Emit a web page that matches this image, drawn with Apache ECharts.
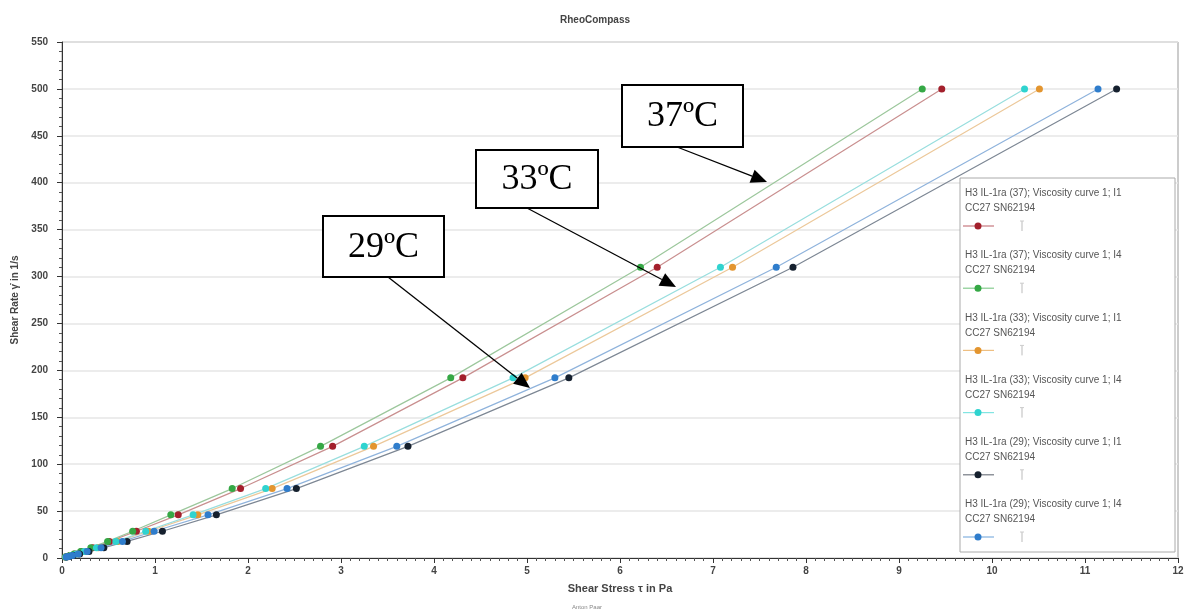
<!DOCTYPE html>
<html>
<head>
<meta charset="utf-8">
<script src="https://cdn.jsdelivr.net/npm/echarts@6/dist/echarts.min.js"></script>
<style>
html,body{margin:0;padding:0;background:#fff;}
#c{width:1187px;height:612px;}
</style>
</head>
<body>
<div id="c"></div>
<script>
// Shear rates (1/s) of the log ramp, ascending
const shearRate = [1.0, 1.6, 2.6, 4.2, 6.8, 11, 17.7, 28.5, 46, 74, 119, 192, 310, 500];

// Shear stress (Pa) for each curve, same order as shearRate
const stress37_I1 = [0.036, 0.056, 0.087, 0.135, 0.21, 0.33, 0.51, 0.80, 1.25, 1.92, 2.91, 4.31, 6.40, 9.46];
const stress37_I4 = [0.035, 0.053, 0.083, 0.13, 0.20, 0.31, 0.49, 0.76, 1.17, 1.83, 2.78, 4.18, 6.22, 9.25];
const stress33_I1 = [0.042, 0.065, 0.10, 0.16, 0.25, 0.39, 0.60, 0.93, 1.46, 2.26, 3.35, 4.98, 7.21, 10.51];
const stress33_I4 = [0.041, 0.063, 0.10, 0.155, 0.24, 0.37, 0.58, 0.90, 1.41, 2.19, 3.25, 4.85, 7.08, 10.35];
const stress29_I1 = [0.05, 0.078, 0.12, 0.19, 0.29, 0.45, 0.70, 1.08, 1.66, 2.52, 3.72, 5.45, 7.86, 11.34];
const stress29_I4 = [0.047, 0.072, 0.113, 0.175, 0.27, 0.42, 0.65, 0.99, 1.57, 2.42, 3.60, 5.30, 7.68, 11.14];

const seriesNames = [
  "H3 IL-1ra (37); Viscosity curve 1; I1",
  "H3 IL-1ra (37); Viscosity curve 1; I4",
  "H3 IL-1ra (33); Viscosity curve 1; I1",
  "H3 IL-1ra (33); Viscosity curve 1; I4",
  "H3 IL-1ra (29); Viscosity curve 1; I1",
  "H3 IL-1ra (29); Viscosity curve 1; I4"
];
const seriesSub = "CC27 SN62194";
const seriesStress = [stress37_I1, stress37_I4, stress33_I1, stress33_I4, stress29_I1, stress29_I4];
const seriesColors = ["#a3202c", "#35a845", "#e3952f", "#2fd3cf", "#15202e", "#2f7dcc"];
const lineColors = ["#c98f8f", "#9cc79c", "#ecc89a", "#98dede", "#7d8794", "#8fb3dc"];

const annotations = [
  {text: "37ºC", box: [622, 85, 121, 62], from: [677, 147], to: [767, 182]},
  {text: "33ºC", box: [476, 150, 122, 58], from: [527, 208], to: [676, 287]},
  {text: "29ºC", box: [323, 216, 121, 61], from: [388, 277], to: [530, 388]}
];

const chart = echarts.init(document.getElementById('c'), null, {renderer: 'canvas'});

const series = seriesNames.map((n, i) => ({
  name: n + "\n" + seriesSub,
  type: 'line',
  data: shearRate.map((r, k) => [seriesStress[i][k], r]),
  symbol: 'circle',
  symbolSize: 7,
  itemStyle: {color: seriesColors[i]},
  lineStyle: {color: lineColors[i], width: 1.2},
  z: 3
}));

// graphic elements: legend + annotations
const graphics = [];
const lgX = 960, lgY = 178, lgStep = 62.2;
graphics.push({type: 'rect', shape: {x: lgX, y: lgY, width: 215, height: 374},
  style: {fill: '#fff', stroke: '#aaa', lineWidth: 1}, z: 10});
seriesNames.forEach((n, i) => {
  const my = 226 + lgStep * i;
  graphics.push({type: 'text', x: lgX + 5, y: my - 40, z: 11,
    style: {text: n + "\n" + seriesSub, fill: '#555', font: '10px "Liberation Sans", Arial, sans-serif', lineHeight: 15}});
  graphics.push({type: 'line', z: 11, shape: {x1: lgX + 3, y1: my, x2: lgX + 34, y2: my},
    style: {stroke: seriesColors[i], lineWidth: 1.2, opacity: 0.6}});
  graphics.push({type: 'circle', z: 12, shape: {cx: lgX + 18, cy: my, r: 3.5},
    style: {fill: seriesColors[i]}});
  graphics.push({type: 'line', z: 11, shape: {x1: lgX + 62, y1: my - 5, x2: lgX + 62, y2: my + 5},
    style: {stroke: '#bbb', lineWidth: 1}});
  graphics.push({type: 'line', z: 11, shape: {x1: lgX + 60, y1: my - 5, x2: lgX + 64, y2: my - 5},
    style: {stroke: '#ccc', lineWidth: 1}});
});

annotations.forEach(a => {
  const [bx, by, bw, bh] = a.box;
  graphics.push({type: 'rect', z: 20, shape: {x: bx, y: by, width: bw, height: bh},
    style: {fill: '#fff', stroke: '#000', lineWidth: 2}});
  graphics.push({type: 'text', z: 21, x: bx + bw / 2, y: by + bh / 2 + 1,
    style: {text: a.text, fill: '#000', font: '36px "Liberation Serif", "Times New Roman", serif', align: 'center', verticalAlign: 'middle'}});
  const [x1, y1] = a.from, [x2, y2] = a.to;
  const ang = Math.atan2(y2 - y1, x2 - x1);
  const L = 16, W = 7;
  const bxp = x2 - L * Math.cos(ang), byp = y2 - L * Math.sin(ang);
  graphics.push({type: 'line', z: 20, shape: {x1: x1, y1: y1, x2: bxp, y2: byp},
    style: {stroke: '#000', lineWidth: 1.3}});
  graphics.push({type: 'polygon', z: 20, shape: {points: [
      [x2, y2],
      [bxp + W * Math.sin(ang), byp - W * Math.cos(ang)],
      [bxp - W * Math.sin(ang), byp + W * Math.cos(ang)]
    ]}, style: {fill: '#000'}});
});

graphics.push({type: 'text', z: 5, x: 587, y: 604,
  style: {text: 'Anton Paar', fill: '#888', font: '6px "Liberation Sans", Arial, sans-serif', align: 'center'}});

const axisLabelStyle = {color: '#444', fontSize: 10, fontWeight: 'bold', fontFamily: '"Liberation Sans", Arial, sans-serif'};

chart.setOption({
  animation: false,
  backgroundColor: '#fff',
  title: {
    text: 'RheoCompass', left: 590, top: 10, textAlign: 'center',
    textStyle: {fontSize: 10, fontWeight: 'bold', color: '#444', fontFamily: '"Liberation Sans", Arial, sans-serif'}
  },
  grid: {left: 62, right: 9, top: 42, bottom: 54, show: true, borderColor: '#999', borderWidth: 1},
  xAxis: {
    type: 'value', min: 0, max: 12, interval: 1,
    name: 'Shear Stress τ in Pa', nameLocation: 'middle', nameGap: 25,
    nameTextStyle: {fontSize: 11, fontWeight: 'bold', color: '#444', fontFamily: '"Liberation Sans", Arial, sans-serif'},
    axisLine: {lineStyle: {color: '#333', width: 1}},
    axisTick: {show: true, length: 5, lineStyle: {color: '#333'}},
    minorTick: {show: true, splitNumber: 10, length: 3, lineStyle: {color: '#555'}},
    axisLabel: Object.assign({margin: 8}, axisLabelStyle),
    splitLine: {show: false}
  },
  yAxis: {
    type: 'value', min: 0, max: 550, interval: 50,
    name: 'Shear Rate γ̇ in 1/s', nameLocation: 'middle', nameGap: 40, nameRotate: 90,
    nameTextStyle: {fontSize: 10, fontWeight: 'bold', color: '#444', fontFamily: '"Liberation Sans", Arial, sans-serif'},
    axisLine: {show: true, lineStyle: {color: '#333', width: 1}},
    axisTick: {show: true, length: 5, lineStyle: {color: '#333'}},
    minorTick: {show: true, splitNumber: 5, length: 3, lineStyle: {color: '#555'}},
    axisLabel: Object.assign({margin: 14}, axisLabelStyle),
    splitLine: {show: true, lineStyle: {color: '#e6e6e6', width: 1.5}}
  },
  legend: {show: false},
  series: series,
  graphic: graphics
});
</script>
</body>
</html>
